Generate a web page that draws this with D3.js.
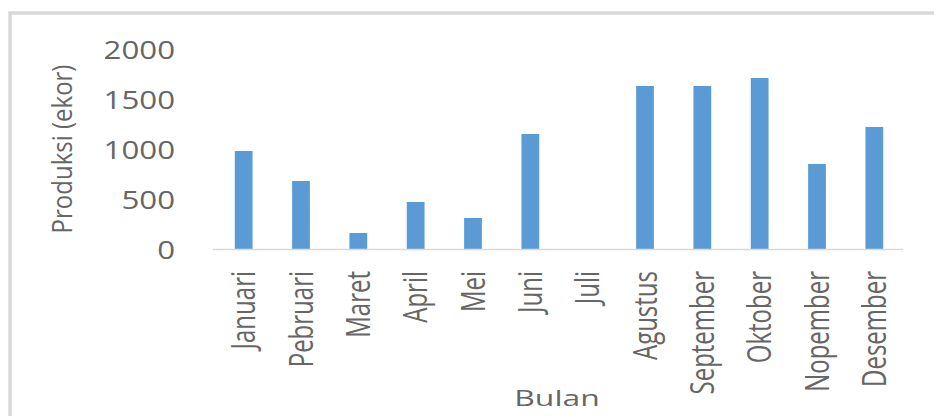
<!DOCTYPE html>
<html>
<head>
<meta charset="utf-8">
<script src="https://cdn.jsdelivr.net/npm/d3@7"></script>
<style>
    html, body { margin: 0; padding: 0; background: #fff; }
    svg { display: block; }
    text { font-family: "Open Sans", "Noto Sans", sans-serif; font-weight: 400; fill: #666666; }
</style>
</head>
<body>
<div id="chart"></div>
<script>
// Produksi per bulan
const months = ['Januari', 'Pebruari', 'Maret', 'April', 'Mei', 'Juni', 'Juli',
    'Agustus', 'September', 'Oktober', 'Nopember', 'Desember'];
const produksi = [980, 680, 160, 470, 310, 1150, 0, 1630, 1630, 1710, 850, 1220];
const yTicks = [0, 500, 1000, 1500, 2000];

const width = 934;
const height = 416;
const plot = { left: 213, right: 903, top: 49, bottom: 249 };

const svg = d3.select('#chart')
    .append('svg')
    .attr('width', width)
    .attr('height', height);

// frame (only top and left edges show)
svg.append('path')
    .attr('d', `M10,${height} V13 H${width}`)
    .attr('fill', 'none')
    .attr('stroke', '#d9d9d9')
    .attr('stroke-width', 3.5);

const x = d3.scaleBand()
    .domain(months)
    .range([215, plot.right])
    .paddingInner(0.69)
    .paddingOuter(0.345);

const y = d3.scaleLinear()
    .domain([0, 2000])
    .range([plot.bottom, plot.top]);

// y axis labels only
const yAxis = svg.append('g')
    .attr('transform', `translate(${plot.left},0)`)
    .call(d3.axisLeft(y).tickValues(yTicks).tickFormat(d3.format('d')).tickSize(0).tickPadding(38));
yAxis.select('.domain').remove();
yAxis.selectAll('text')
    .attr('x', 0)
    .attr('dy', '0.36em')
    .attr('transform', 'translate(-38,0) scale(1.25,1)')
    .style('font-size', '25px')
    .style('font-family', null)
    .style('fill', '#666666');

// bars
svg.selectAll('.bar')
    .data(months)
    .enter().append('rect')
    .attr('class', 'bar')
    .attr('x', d => x(d))
    .attr('width', x.bandwidth())
    .attr('y', (d, i) => y(produksi[i]))
    .attr('height', (d, i) => y(0) - y(produksi[i]))
    .attr('fill', '#5b9bd5');

// baseline
svg.append('line')
    .attr('x1', plot.left)
    .attr('x2', plot.right)
    .attr('y1', y(0) + 0.5)
    .attr('y2', y(0) + 0.5)
    .attr('stroke', '#d9d9d9')
    .attr('stroke-width', 1.5);

// month labels, rotated
svg.selectAll('.month')
    .data(months)
    .enter().append('text')
    .attr('class', 'month')
    .attr('transform', d => `translate(${x(d) + x.bandwidth() / 2},271) scale(1.35,1) rotate(-90)`)
    .attr('dy', '0.36em')
    .style('text-anchor', 'end')
    .style('font-size', '24px')
    .text(d => d);

// axis titles
svg.append('text')
    .attr('transform', 'translate(557,398) scale(1.45,1)')
    .attr('dy', '0.36em')
    .style('text-anchor', 'middle')
    .style('font-size', '22px')
    .text('Bulan');

svg.append('text')
    .attr('transform', 'translate(62,149) scale(1.15,1) rotate(-90)')
    .attr('dy', '0.36em')
    .style('text-anchor', 'middle')
    .style('font-size', '24px')
    .text('Produksi (ekor)');
</script>
</body>
</html>
